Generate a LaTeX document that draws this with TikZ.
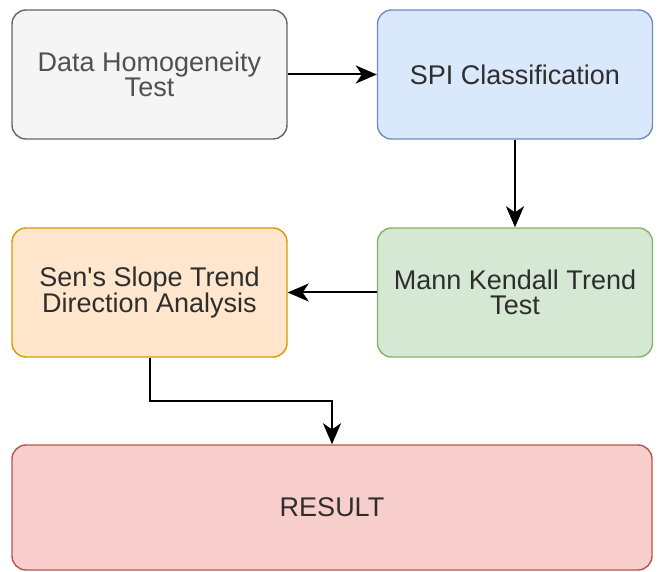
\documentclass[tikz,border=0pt]{standalone}
\usepackage{fontspec}
\setmainfont{Liberation Sans}
\usetikzlibrary{arrows.meta}
\definecolor{grayfill}{HTML}{F5F5F5}\definecolor{graydraw}{HTML}{666666}
\definecolor{bluefill}{HTML}{DAE8FC}\definecolor{bluedraw}{HTML}{6C8EBF}
\definecolor{greenfill}{HTML}{D5E8D4}\definecolor{greendraw}{HTML}{82B366}
\definecolor{orangefill}{HTML}{FFE6CC}\definecolor{orangedraw}{HTML}{D79B00}
\definecolor{redfill}{HTML}{F8CECC}\definecolor{reddraw}{HTML}{B85450}
\definecolor{txt}{HTML}{2E2E2E}\definecolor{txtlight}{HTML}{505050}
\tikzset{
  box/.style={draw, rounded corners=14pt, line width=1.4pt, minimum width=275pt, minimum height=129pt,
    align=center, text=txt, font=\fontsize{27}{25.5}\selectfont, inner sep=0pt},
  conn/.style={line width=2pt, draw=black, -{Stealth[length=21pt,width=18pt,inset=6pt]}}
}
\begin{document}
\begin{tikzpicture}[x=1pt,y=-1pt]
\useasboundingbox (0,0) rectangle (662,572);
\node[box, fill=grayfill, draw=graydraw, text=txtlight] (dh) at (149.5,74.5) {Data Homogeneity\\Test};
\node[box, fill=bluefill, draw=bluedraw] (spi) at (515,74.5) {SPI Classification};
\node[box, fill=greenfill, draw=greendraw] (mk) at (515,292.5) {Mann Kendall Trend\\Test};
\node[box, fill=orangefill, draw=orangedraw] (sen) at (149.5,292.5) {Sen\textquotesingle s Slope Trend\\Direction Analysis};
\node[box, fill=redfill, draw=reddraw, minimum width=640pt, minimum height=125pt] (res) at (332,507.5) {RESULT};
\draw[conn] (dh.east) -- (spi.west);
\draw[conn] (spi.south) -- (mk.north);
\draw[conn] (mk.west) -- (sen.west -| sen.east);
\coordinate (bend1) at (149.5,401);
\coordinate (bend2) at (332,401);
\draw[conn] (sen.south) -- (bend1) -- (bend2) -- (res.north);
\end{tikzpicture}
\end{document}
